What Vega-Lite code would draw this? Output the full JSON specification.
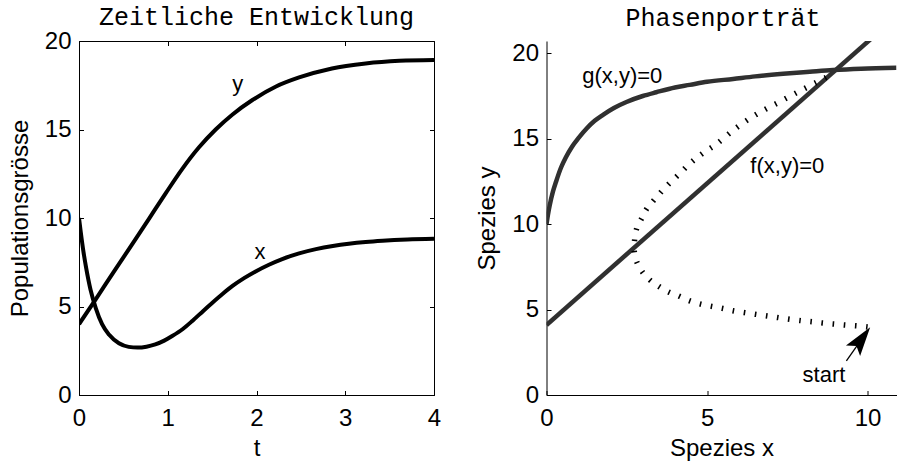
{
  "$schema": "https://vega.github.io/schema/vega-lite/v6.json",
  "background": "white",
  "padding": {"left": 7, "top": 4, "right": 0, "bottom": 0},
  "bounds": "flush",
  "spacing": 112.5,
  "config": {
    "font": "Liberation Sans",
    "axis": {
      "labelFont": "Liberation Sans", "labelFontSize": 24, "labelColor": "black",
      "titleFont": "Liberation Sans", "titleFontSize": 24, "titleFontWeight": "normal", "titleColor": "black",
      "domainColor": "black", "tickColor": "black", "grid": false, "labelFlush": false, "labelOverlap": false,
      "tickSize": -4.5, "domainWidth": 1, "tickWidth": 1
    },
    "axisX": {"labelPadding": 16.2},
    "axisY": {"labelPadding": 12.5},
    "title": {"font": "Liberation Mono", "fontSize": 25, "fontWeight": "normal", "color": "black", "baseline": "alphabetic", "offset": -0.6, "frame": "group"},
    "text": {"font": "Liberation Sans"}
  },
  "hconcat": [
    {
      "width": 355,
      "height": 354,
      "title": {"text": "Zeitliche Entwicklung"},
      "view": {"stroke": "black", "strokeWidth": 1},
      "resolve": {"axis": {"x": "independent", "y": "independent"}},
      "layer": [
        {
          "data": {"values": [
            {"s": "x", "t": 0, "v": 10},
            {"s": "x", "t": 0.02, "v": 9.2},
            {"s": "x", "t": 0.05, "v": 8.1},
            {"s": "x", "t": 0.08, "v": 7.2},
            {"s": "x", "t": 0.13, "v": 5.95},
            {"s": "x", "t": 0.19, "v": 4.9},
            {"s": "x", "t": 0.26, "v": 4.0},
            {"s": "x", "t": 0.34, "v": 3.4},
            {"s": "x", "t": 0.45, "v": 2.92},
            {"s": "x", "t": 0.56, "v": 2.72},
            {"s": "x", "t": 0.66, "v": 2.68},
            {"s": "x", "t": 0.76, "v": 2.73},
            {"s": "x", "t": 0.86, "v": 2.86},
            {"s": "x", "t": 0.96, "v": 3.07},
            {"s": "x", "t": 1.05, "v": 3.33},
            {"s": "x", "t": 1.17, "v": 3.73},
            {"s": "x", "t": 1.28, "v": 4.2},
            {"s": "x", "t": 1.4, "v": 4.75},
            {"s": "x", "t": 1.5, "v": 5.2},
            {"s": "x", "t": 1.62, "v": 5.72},
            {"s": "x", "t": 1.73, "v": 6.16},
            {"s": "x", "t": 1.86, "v": 6.6},
            {"s": "x", "t": 1.99, "v": 6.98},
            {"s": "x", "t": 2.14, "v": 7.36},
            {"s": "x", "t": 2.29, "v": 7.68},
            {"s": "x", "t": 2.48, "v": 8.0},
            {"s": "x", "t": 2.67, "v": 8.24},
            {"s": "x", "t": 2.86, "v": 8.42},
            {"s": "x", "t": 3.04, "v": 8.55},
            {"s": "x", "t": 3.23, "v": 8.65},
            {"s": "x", "t": 3.42, "v": 8.72},
            {"s": "x", "t": 3.7, "v": 8.79},
            {"s": "x", "t": 4.0, "v": 8.83},
            {"s": "y", "t": 0, "v": 4.0},
            {"s": "y", "t": 0.19, "v": 5.42},
            {"s": "y", "t": 0.41, "v": 7.1},
            {"s": "y", "t": 0.6, "v": 8.52},
            {"s": "y", "t": 0.79, "v": 9.97},
            {"s": "y", "t": 0.98, "v": 11.42},
            {"s": "y", "t": 1.16, "v": 12.75},
            {"s": "y", "t": 1.35, "v": 13.98},
            {"s": "y", "t": 1.54, "v": 15.0},
            {"s": "y", "t": 1.73, "v": 15.85},
            {"s": "y", "t": 1.95, "v": 16.65},
            {"s": "y", "t": 2.22, "v": 17.43},
            {"s": "y", "t": 2.48, "v": 17.94},
            {"s": "y", "t": 2.85, "v": 18.45},
            {"s": "y", "t": 3.23, "v": 18.73},
            {"s": "y", "t": 3.61, "v": 18.88},
            {"s": "y", "t": 4.0, "v": 18.93}
          ]},
          "mark": {"type": "line", "color": "black", "strokeWidth": 4, "interpolate": "monotone", "clip": true},
          "encoding": {
            "x": {"field": "t", "type": "quantitative", "scale": {"domain": [0, 4], "nice": false, "zero": false},
                  "axis": {"orient": "bottom", "values": [0, 1, 2, 3, 4], "title": "t", "titleX": 177.5, "titleY": 60, "titleBaseline": "alphabetic", "titleAlign": "center"}},
            "y": {"field": "v", "type": "quantitative", "scale": {"domain": [0, 20], "nice": false, "zero": false},
                  "axis": {"orient": "left", "values": [0, 5, 10, 15, 20], "title": "Populationsgrösse", "titleX": -52, "titleY": 177, "titleAngle": -90, "titleBaseline": "alphabetic", "titleAlign": "center"}},
            "detail": {"field": "s"}
          }
        },
        {
          "data": {"values": [
            {"t": 1.79, "v": 17.19, "label": "y"},
            {"t": 2.04, "v": 7.68, "label": "x"}
          ]},
          "mark": {"type": "text", "fontSize": 22, "baseline": "alphabetic", "align": "center", "color": "black"},
          "encoding": {
            "x": {"field": "t", "type": "quantitative", "scale": {"domain": [0, 4], "nice": false, "zero": false},
                  "axis": {"orient": "top", "values": [0, 1, 2, 3, 4], "labels": false, "title": null, "domain": false}},
            "y": {"field": "v", "type": "quantitative", "scale": {"domain": [0, 20], "nice": false, "zero": false},
                  "axis": {"orient": "right", "values": [0, 5, 10, 15, 20], "labels": false, "title": null, "domain": false}},
            "text": {"field": "label"}
          }
        }
      ]
    },
    {
      "width": 350,
      "height": 354,
      "title": {"text": "Phasenporträt", "dx": 1.5, "offset": 9.9},
      "view": {"stroke": null},
      "encoding": {
        "x": {"field": "x", "type": "quantitative", "scale": {"domain": [0, 10.9], "nice": false, "zero": false},
              "axis": {"orient": "bottom", "values": [0, 5, 10], "title": "Spezies x", "titleX": 175, "titleY": 60, "titleBaseline": "alphabetic", "titleAlign": "center"}},
        "y": {"field": "y", "type": "quantitative", "scale": {"domain": [0, 20.72], "nice": false, "zero": false},
              "axis": {"orient": "left", "values": [0, 5, 10, 15, 20], "title": "Spezies y", "titleX": -52.5, "titleY": 177, "titleAngle": -90, "titleBaseline": "alphabetic", "titleAlign": "center"}}
      },
      "layer": [
        {
          "data": {"values": [
            {"s": "f", "x": 0, "y": 4.1},
            {"s": "f", "x": 10.5, "y": 21.5},
            {"s": "g", "x": 0, "y": 10.0},
            {"s": "g", "x": 0.05, "y": 10.6},
            {"s": "g", "x": 0.1, "y": 11.1},
            {"s": "g", "x": 0.2, "y": 11.9},
            {"s": "g", "x": 0.3, "y": 12.5},
            {"s": "g", "x": 0.45, "y": 13.3},
            {"s": "g", "x": 0.6, "y": 13.9},
            {"s": "g", "x": 0.8, "y": 14.55},
            {"s": "g", "x": 1.0, "y": 15.05},
            {"s": "g", "x": 1.25, "y": 15.6},
            {"s": "g", "x": 1.5, "y": 16.05},
            {"s": "g", "x": 1.76, "y": 16.4},
            {"s": "g", "x": 2.1, "y": 16.8},
            {"s": "g", "x": 2.49, "y": 17.15},
            {"s": "g", "x": 3.0, "y": 17.5},
            {"s": "g", "x": 3.42, "y": 17.72},
            {"s": "g", "x": 4.0, "y": 18.0},
            {"s": "g", "x": 4.46, "y": 18.15},
            {"s": "g", "x": 5.0, "y": 18.33},
            {"s": "g", "x": 5.81, "y": 18.5},
            {"s": "g", "x": 6.5, "y": 18.65},
            {"s": "g", "x": 7.37, "y": 18.8},
            {"s": "g", "x": 8.2, "y": 18.92},
            {"s": "g", "x": 8.92, "y": 19.02},
            {"s": "g", "x": 9.8, "y": 19.1},
            {"s": "g", "x": 10.9, "y": 19.15}
          ]},
          "mark": {"type": "line", "color": "#303030", "strokeWidth": 4.5, "interpolate": "monotone", "clip": true},
          "encoding": {"detail": {"field": "s"}}
        },
        {
          "data": {"values": [
            {"i": 0, "x": 10.0, "y": 3.98},
            {"i": 1, "x": 9.7, "y": 4.04},
            {"i": 2, "x": 9.34, "y": 4.09},
            {"i": 3, "x": 8.98, "y": 4.15},
            {"i": 4, "x": 8.61, "y": 4.21},
            {"i": 5, "x": 8.28, "y": 4.29},
            {"i": 6, "x": 7.93, "y": 4.35},
            {"i": 7, "x": 7.4, "y": 4.48},
            {"i": 8, "x": 6.9, "y": 4.62},
            {"i": 9, "x": 6.35, "y": 4.77},
            {"i": 10, "x": 5.81, "y": 4.93},
            {"i": 11, "x": 5.48, "y": 5.07},
            {"i": 12, "x": 5.14, "y": 5.19},
            {"i": 13, "x": 4.8, "y": 5.32},
            {"i": 14, "x": 4.46, "y": 5.51},
            {"i": 15, "x": 4.1, "y": 5.81},
            {"i": 16, "x": 3.79, "y": 6.04},
            {"i": 17, "x": 3.47, "y": 6.39},
            {"i": 18, "x": 3.19, "y": 6.78},
            {"i": 19, "x": 2.96, "y": 7.27},
            {"i": 20, "x": 2.8, "y": 7.85},
            {"i": 21, "x": 2.73, "y": 8.5},
            {"i": 22, "x": 2.75, "y": 9.16},
            {"i": 23, "x": 2.82, "y": 9.81},
            {"i": 24, "x": 2.98, "y": 10.39},
            {"i": 25, "x": 3.13, "y": 10.92},
            {"i": 26, "x": 3.37, "y": 11.46},
            {"i": 27, "x": 3.63, "y": 12.01},
            {"i": 28, "x": 3.89, "y": 12.5},
            {"i": 29, "x": 4.15, "y": 12.96},
            {"i": 30, "x": 4.41, "y": 13.45},
            {"i": 31, "x": 4.65, "y": 13.84},
            {"i": 32, "x": 4.93, "y": 14.23},
            {"i": 33, "x": 5.29, "y": 14.68},
            {"i": 34, "x": 5.92, "y": 15.65},
            {"i": 35, "x": 6.54, "y": 16.43},
            {"i": 36, "x": 7.21, "y": 17.11},
            {"i": 37, "x": 7.84, "y": 17.74},
            {"i": 38, "x": 8.41, "y": 18.3},
            {"i": 39, "x": 8.72, "y": 18.6},
            {"i": 40, "x": 8.82, "y": 18.72}
          ]},
          "mark": {"type": "line", "color": "black", "strokeWidth": 5.5, "strokeDash": [1.6, 9.6], "interpolate": "catmull-rom"},
          "encoding": {"order": {"field": "i", "type": "quantitative"}}
        },
        {
          "data": {"values": [{"x": 9.34, "y": 2.0, "x2": 9.75, "y2": 3.1}]},
          "mark": {"type": "rule", "color": "black", "strokeWidth": 1.3},
          "encoding": {"x2": {"field": "x2"}, "y2": {"field": "y2"}}
        },
        {
          "data": {"values": [{"x": 10.08, "y": 3.97}]},
          "mark": {"type": "point", "shape": "M0,0 L-0.6,2 L0,1.6 L0.6,2 Z", "size": 850, "angle": 36, "filled": true, "color": "black", "opacity": 1, "strokeWidth": 0}
        },
        {
          "data": {"values": [
            {"x": 2.36, "y": 18.65, "label": "g(x,y)=0"},
            {"x": 7.5, "y": 13.39, "label": "f(x,y)=0"}
          ]},
          "mark": {"type": "text", "fontSize": 22, "baseline": "middle", "align": "center", "color": "black"},
          "encoding": {"text": {"field": "label"}}
        },
        {
          "data": {"values": [{"x": 8.64, "y": 0.78, "label": "start"}]},
          "mark": {"type": "text", "fontSize": 22, "baseline": "alphabetic", "align": "center", "color": "black"},
          "encoding": {"text": {"field": "label"}}
        }
      ]
    }
  ]
}
